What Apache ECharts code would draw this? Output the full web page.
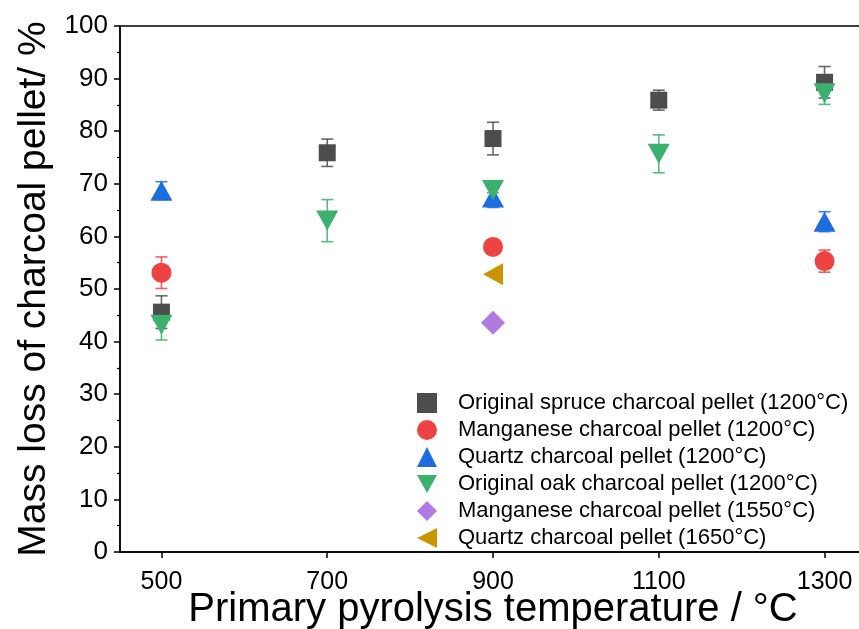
<!DOCTYPE html>
<html><head><meta charset="utf-8">
<script src="https://cdn.jsdelivr.net/npm/echarts@6/dist/echarts.min.js"></script>
<style>html,body{margin:0;padding:0;background:#fff}#c{width:859px;height:629px}</style>
</head><body><div id="c"></div>
<script>
// ---- data ----
const xTicks = [500, 700, 900, 1100, 1300];
const yTicks = [0, 10, 20, 30, 40, 50, 60, 70, 80, 90, 100];

const spruceX = [500, 700, 900, 1100, 1300];
const spruceY = [45.6, 75.9, 78.6, 85.9, 89.3];
const spruceE = [3.1, 2.6, 3.1, 1.9, 3.0];

const mn1200X = [500, 900, 1300];
const mn1200Y = [53.1, 58.0, 55.3];
const mn1200E = [3.0, 0.6, 2.1];

const qz1200X = [500, 900, 1300];
const qz1200Y = [68.7, 67.4, 62.8];
const qz1200E = [1.7, 1.9, 1.9];

const oakX = [500, 700, 900, 1100, 1300];
const oakY = [43.2, 63.0, 68.8, 75.7, 87.2];
const oakE = [2.9, 4.0, 0.5, 3.6, 2.1];

const mn1550X = [900];
const mn1550Y = [43.6];

const qz1650X = [900];
const qz1650Y = [52.8];

const names = [
  'Original spruce charcoal pellet (1200°C)',
  'Manganese charcoal pellet (1200°C)',
  'Quartz charcoal pellet (1200°C)',
  'Original oak charcoal pellet (1200°C)',
  'Manganese charcoal pellet (1550°C)',
  'Quartz charcoal pellet (1650°C)'
];

// ---- chart ----
const FONT = 'Arial, "Liberation Sans", sans-serif';
const pts = (xs, ys) => xs.map((x, i) => [x, ys[i]]);
const errs = (xs, ys, es) => xs.map((x, i) => [x, ys[i] - es[i], ys[i] + es[i]]);

function errRender(color) {
  return function (params, api) {
    const x = api.value(0), lo = api.value(1), hi = api.value(2);
    const a = api.coord([x, hi]), b = api.coord([x, lo]);
    const w = 6;
    const st = { stroke: color, lineWidth: 1.6, opacity: 0.85 };
    return {
      type: 'group',
      children: [
        { type: 'line', shape: { x1: a[0], y1: a[1], x2: b[0], y2: b[1] }, style: st },
        { type: 'line', shape: { x1: a[0] - w, y1: a[1], x2: a[0] + w, y2: a[1] }, style: st },
        { type: 'line', shape: { x1: b[0] - w, y1: b[1], x2: b[0] + w, y2: b[1] }, style: st }
      ]
    };
  };
}

const DOWN = 'path://M0,0 L22,0 L11,20 Z';
const LEFT = 'path://M0,10 L20,0 L20,20 Z';

const cols = ['#4d4d4d', '#ef4242', '#1c6ee0', '#3cb06e', '#b07ae0', '#cc9400'];

function scat(name, data, color, symbol, size) {
  return { type: 'scatter', name, data, symbol, symbolSize: size,
    itemStyle: { color, opacity: 1 }, emphasis: { disabled: true } };
}
function ebar(data, color) {
  return { type: 'custom', data, renderItem: errRender(color),
    encode: { x: 0, y: [1, 2] }, silent: true };
}

const option = {
  animation: false,
  backgroundColor: '#fff',
  grid: { left: 120, top: 26, bottom: 77, right: -7, containLabel: false, outerBoundsMode: 'none',
    show: true, borderColor: '#000', borderWidth: 1.5 },
  xAxis: {
    type: 'value', min: 450, max: 1350,
    name: 'Primary pyrolysis temperature / °C', nameLocation: 'middle', nameGap: 38, nameMoveOverlap: false,
    nameTextStyle: { fontFamily: FONT, fontSize: 40, color: '#000' },
    axisLine: { onZero: false, lineStyle: { color: '#000', width: 1.5 } },
    axisTick: { show: true, length: 6, customValues: xTicks, lineStyle: { color: '#000', width: 1.5 } },
    axisLabel: { customValues: xTicks, formatter: v => String(v), fontFamily: FONT, fontSize: 25, color: '#000', margin: 18 },
    splitLine: { show: false }
  },
  yAxis: {
    type: 'value', min: 0, max: 100, interval: 10,
    name: 'Mass loss of charcoal pellet/ %', nameLocation: 'middle', nameGap: 66, nameMoveOverlap: false,
    nameTextStyle: { fontFamily: FONT, fontSize: 39, color: '#000' },
    axisLine: { show: true, lineStyle: { color: '#000', width: 1.5 } },
    axisTick: { show: true, length: 6, lineStyle: { color: '#000', width: 1.5 } },
    minorTick: { show: true, splitNumber: 2, length: 3, lineStyle: { color: '#000', width: 1.2 } },
    axisLabel: { formatter: v => String(v), fontFamily: FONT, fontSize: 26, color: '#000', margin: 12 },
    splitLine: { show: false }
  },
  legend: {
    orient: 'vertical', left: 417, top: 392, padding: 0, itemGap: 5, itemWidth: 20, itemHeight: 20,
    data: names,
    formatter: '{g| }{t|{name}}',
    textStyle: { fontFamily: FONT, fontSize: 22, color: '#000', lineHeight: 20,
      rich: { g: { width: 16, lineHeight: 20 }, t: { fontFamily: FONT, fontSize: 22, color: '#000', lineHeight: 20 } } },
    selectedMode: false
  },
  series: [
    scat(names[0], pts(spruceX, spruceY), cols[0], 'rect', 17),
    ebar(errs(spruceX, spruceY, spruceE), cols[0]),
    scat(names[1], pts(mn1200X, mn1200Y), cols[1], 'circle', 20),
    ebar(errs(mn1200X, mn1200Y, mn1200E), cols[1]),
    scat(names[2], pts(qz1200X, qz1200Y), cols[2], 'triangle', [22, 20]),
    ebar(errs(qz1200X, qz1200Y, qz1200E), cols[2]),
    scat(names[3], pts(oakX, oakY), cols[3], DOWN, [22, 20]),
    ebar(errs(oakX, oakY, oakE), cols[3]),
    scat(names[4], pts(mn1550X, mn1550Y), cols[4], 'diamond', 24),
    scat(names[5], pts(qz1650X, qz1650Y), cols[5], LEFT, [20, 22])
  ]
};
echarts.init(document.getElementById('c')).setOption(option);
</script></body></html>
